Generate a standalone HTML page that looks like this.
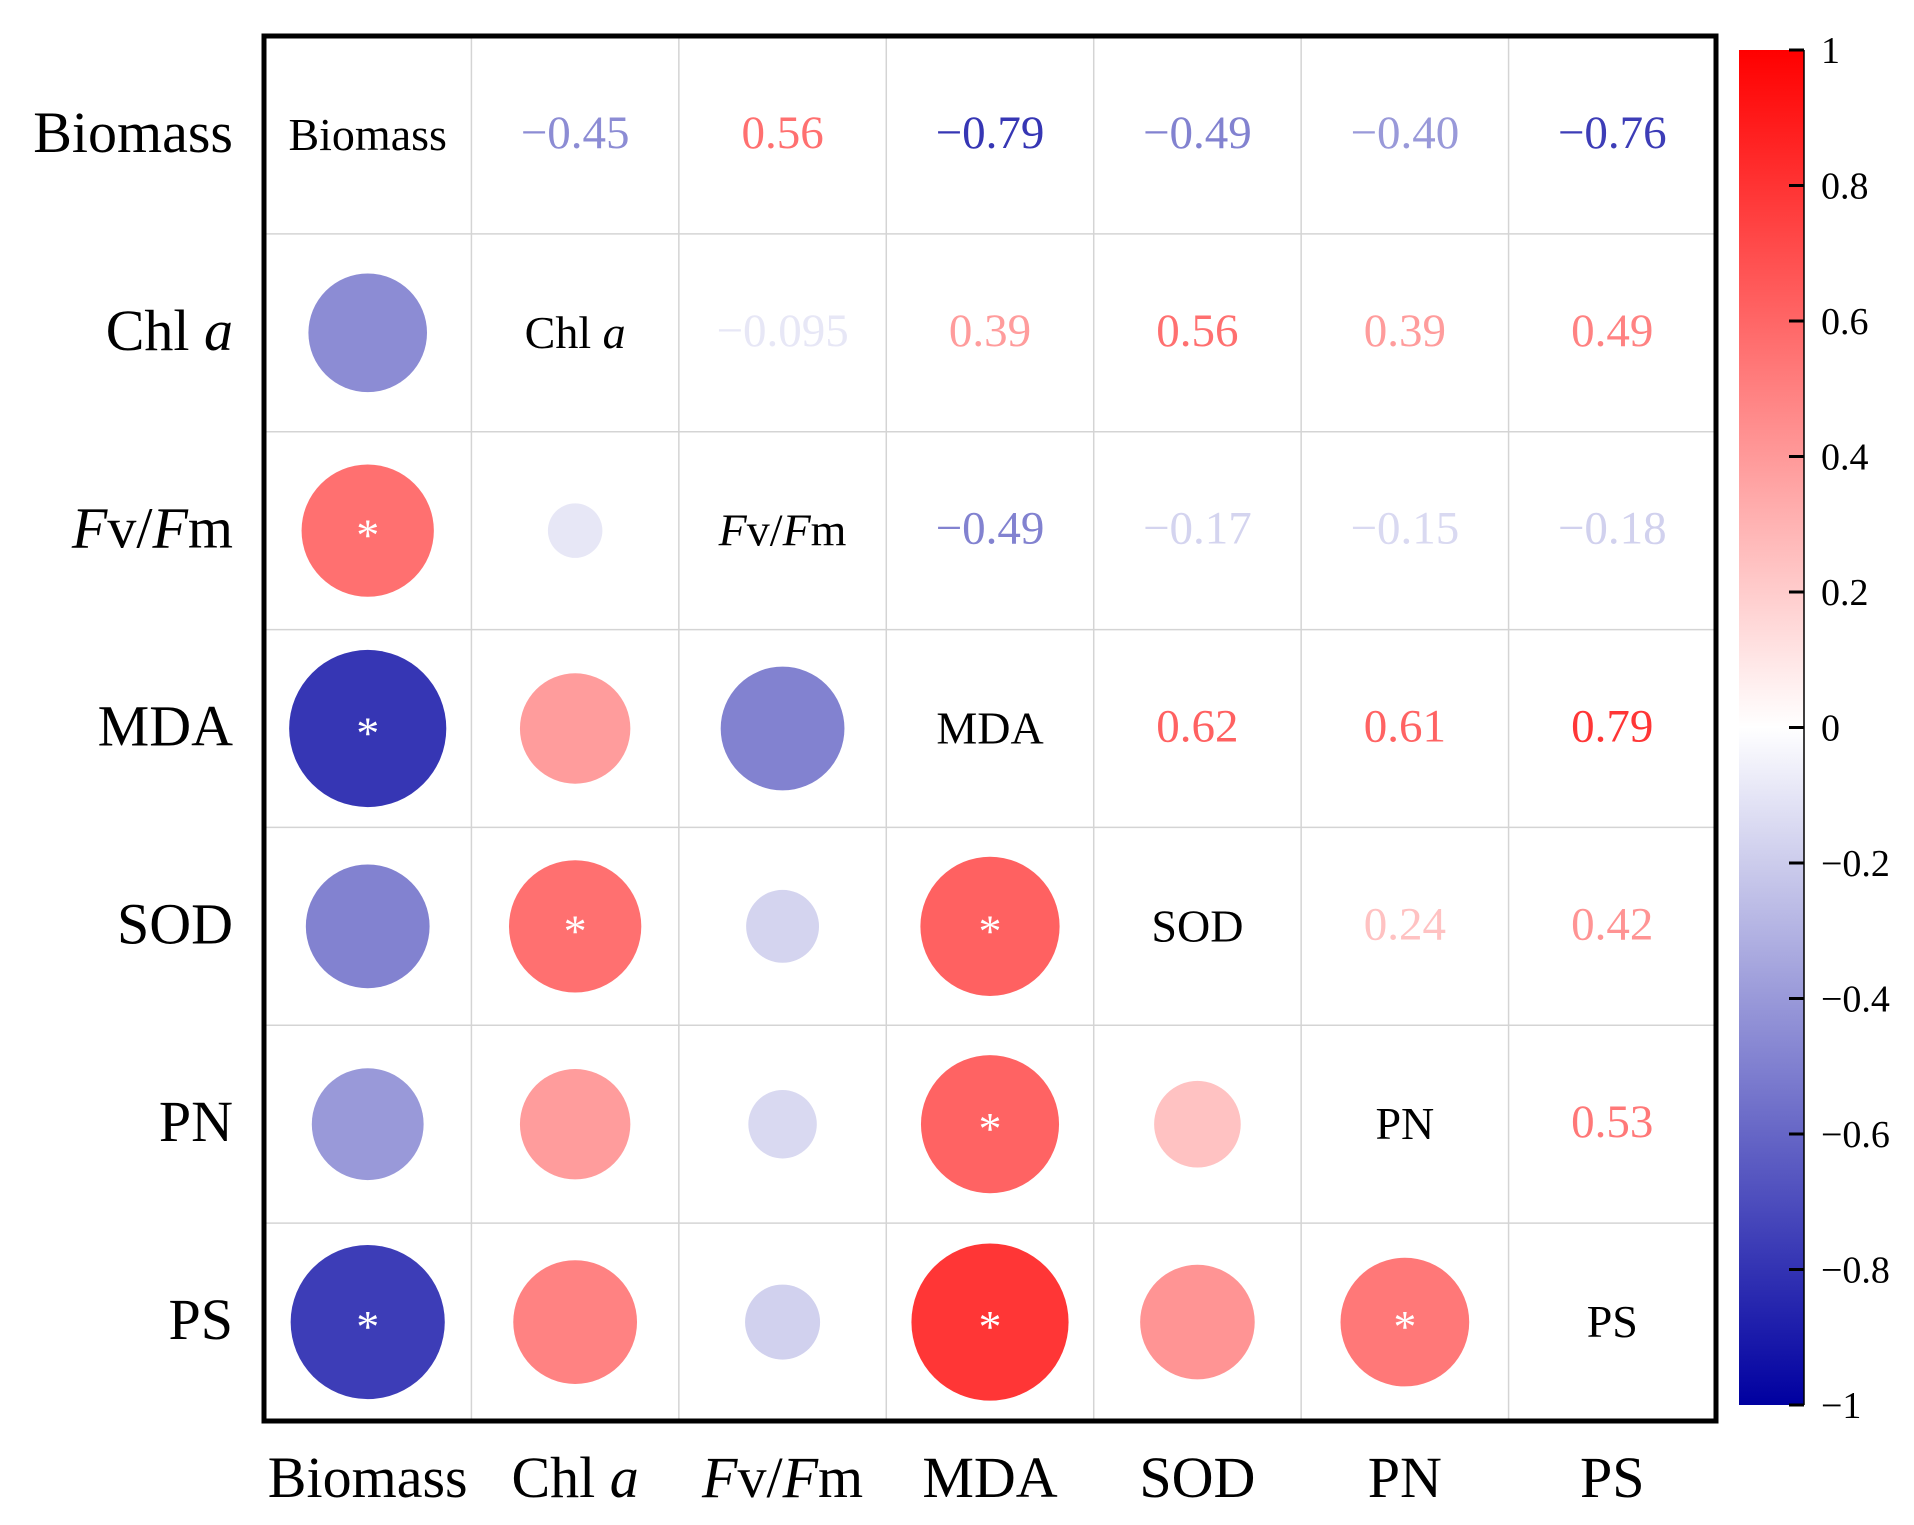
<!DOCTYPE html>
<html><head><meta charset="utf-8"><style>
html,body{margin:0;padding:0;background:#fff;}
svg{display:block;font-family:"Liberation Serif",serif;}
</style></head><body>
<svg id="chart" width="1914" height="1525" viewBox="0 0 1914 1525" xmlns="http://www.w3.org/2000/svg"></svg>
<script>
const labels = ["Biomass","Chl a","Fv/Fm","MDA","SOD","PN","PS"];
const rowBiomass = [1,-0.45,0.56,-0.79,-0.49,-0.40,-0.76];
const rowChl = [-0.45,1,-0.095,0.39,0.56,0.39,0.49];
const rowFv = [0.56,-0.095,1,-0.49,-0.17,-0.15,-0.18];
const rowMDA = [-0.79,0.39,-0.49,1,0.62,0.61,0.79];
const rowSOD = [-0.49,0.56,-0.17,0.62,1,0.24,0.42];
const rowPN = [-0.40,0.39,-0.15,0.61,0.24,1,0.53];
const rowPS = [-0.76,0.49,-0.18,0.79,0.42,0.53,1];
const printed = [
 ["","−0.45","0.56","−0.79","−0.49","−0.40","−0.76"],
 ["","","−0.095","0.39","0.56","0.39","0.49"],
 ["","","","−0.49","−0.17","−0.15","−0.18"],
 ["","","","","0.62","0.61","0.79"],
 ["","","","","","0.24","0.42"],
 ["","","","","","","0.53"],
 ["","","","","","",""]];
const significant = [[0,2],[0,3],[0,6],[1,4],[3,4],[3,5],[3,6],[5,6]];
const cbTicks = [1,0.8,0.6,0.4,0.2,0,-0.2,-0.4,-0.6,-0.8,-1];
const cbTickLabels = ["1","0.8","0.6","0.4","0.2","0","−0.2","−0.4","−0.6","−0.8","−1"];
const matrix=[rowBiomass,rowChl,rowFv,rowMDA,rowSOD,rowPN,rowPS];

const NS="http://www.w3.org/2000/svg";
const svg=document.getElementById('chart');
const L=264,T=36,R=1716,B=1421,n=7;
const cw=(R-L)/n, ch=(B-T)/n;
const cx=j=>L+cw*(j+0.5), cy=i=>T+ch*(i+0.5);
const rad=v=>88.4*Math.sqrt(Math.abs(v));
const cbTop=50,cbBot=1405,cbL=1739,cbR=1804;
const cbY=v=>cbTop+(1-v)/2*(cbBot-cbTop);
function color(v){
  if(v>=0){const g=Math.round(255*(1-v));return `rgb(255,${g},${g})`;}
  const a=-v;const g=Math.round(255*(1-a));const b=Math.round(255-95*a);return `rgb(${g},${g},${b})`;
}
function el(t,attrs,parent){const e=document.createElementNS(NS,t);for(const k in attrs)e.setAttribute(k,attrs[k]);(parent||svg).appendChild(e);return e;}
function labelText(e,name){
  if(name==="Chl a"){e.innerHTML='Chl <tspan font-style="italic">a</tspan>';}
  else if(name==="Fv/Fm"){e.innerHTML='<tspan font-style="italic">F</tspan>v/<tspan font-style="italic">F</tspan>m';}
  else e.textContent=name;
}
for(let k=1;k<n;k++){
  const g1=el('line',{x1:L+cw*k,y1:T,x2:L+cw*k,y2:B,stroke:'#d4d4d4','stroke-width':1.5});
  
  
  const g2=el('line',{x1:L,y1:T+ch*k,x2:R,y2:T+ch*k,stroke:'#d4d4d4','stroke-width':1.5});
  
  
}
for(let i=0;i<n;i++)for(let j=0;j<n;j++){
  const v=matrix[i][j];
  if(i===j){
    const t=el('text',{x:cx(j),y:cy(i)+15,'text-anchor':'middle','font-size':46,fill:'#000'});
    labelText(t,labels[i]);
    
    
  } else if(j>i){
    const t=el('text',{x:cx(j),y:cy(i)+13,'text-anchor':'middle','font-size':47,fill:color(v)});
    t.textContent=printed[i][j];
    
    
  } else {
    const c=el('circle',{cx:cx(j),cy:cy(i),r:rad(v),fill:color(v)});
    
    
    if(significant.some(p=>p[0]===j&&p[1]===i)){
      const s=el('text',{x:cx(j),y:cy(i)+20,'text-anchor':'middle','font-size':46,fill:'#fff'});
      s.textContent='*';
      
      
    }
  }
}
const bd=el('rect',{x:L,y:T,width:R-L,height:B-T,fill:'none',stroke:'#000','stroke-width':5});


for(let k=0;k<n;k++){
  const ty=el('text',{x:233,y:cy(k)+17,'text-anchor':'end','font-size':58,fill:'#000'});
  labelText(ty,labels[k]);
  
  
  const tx=el('text',{x:cx(k),y:1497,'text-anchor':'middle','font-size':58,fill:'#000'});
  labelText(tx,labels[k]);
  
  
}
const defs=el('defs',{});
const grad=el('linearGradient',{id:'cbg',x1:0,y1:0,x2:0,y2:1},defs);
for(let s=0;s<=20;s++){const v=1-s/10;el('stop',{offset:(s/20),'stop-color':color(v)},grad);}
const cb=el('rect',{x:cbL,y:cbTop,width:cbR-cbL,height:cbBot-cbTop,fill:'url(#cbg)'});


el('line',{x1:cbR,y1:cbTop,x2:cbR,y2:cbBot,stroke:'#000','stroke-width':1.5});
cbTicks.forEach((v,k)=>{
  const y=cbY(v);
  const tk=el('line',{x1:cbR-15,y1:y,x2:cbR,y2:y,stroke:'#000','stroke-width':3});
  
  
  const t=el('text',{x:1821,y:y+13,'font-size':38,fill:'#000'});
  t.textContent=cbTickLabels[k];
  
  
});
</script>
</body></html>
